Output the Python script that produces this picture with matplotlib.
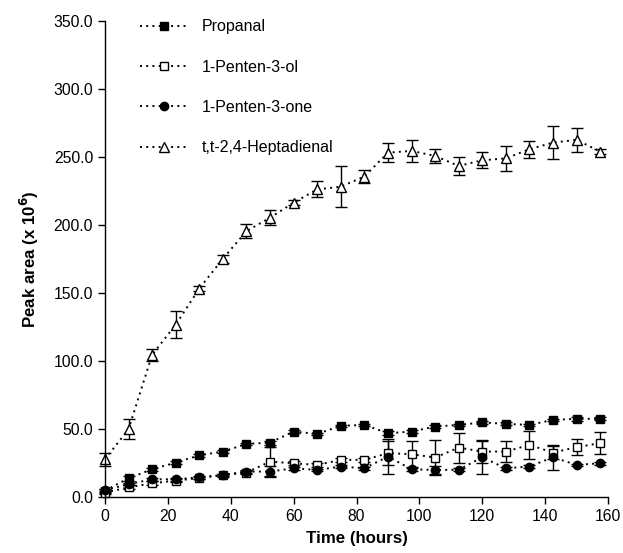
import matplotlib
matplotlib.use("Agg")
import matplotlib.pyplot as plt
import numpy as np

plt.rcParams['font.family'] = ['Liberation Sans', 'DejaVu Sans']

time_h = [0, 7.5, 15, 22.5, 30, 37.5, 45, 52.5, 60, 67.5, 75, 82.5,
          90, 97.5, 105, 112.5, 120, 127.5, 135, 142.5, 150, 157.5]

propanal = [4.7, 13.8, 20.4, 25.3, 30.7, 33.4, 39.0, 40.0, 48.1, 46.4, 52.3, 53.0,
            46.9, 48.1, 51.8, 53.0, 54.8, 53.8, 53.0, 56.7, 57.5, 57.5]
propanal_err = [1.5, 2.0, 1.0, 1.0, 1.0, 1.0, 1.0, 1.5, 1.0, 1.0, 1.0, 1.0,
                1.5, 1.0, 1.0, 1.0, 1.0, 1.0, 1.0, 1.0, 1.5, 1.0]

pentenol = [3.2, 7.1, 10.1, 12.0, 14.0, 16.0, 18.0, 26.0, 24.8, 23.6, 27.3, 27.3,
            32.2, 31.5, 29.0, 36.3, 33.4, 33.4, 38.3, 32.7, 36.6, 39.6]
pentenol_err = [1.0, 1.5, 1.5, 1.0, 1.0, 1.0, 1.0, 10.5, 1.5, 1.5, 1.5, 1.5,
                9.0, 9.8, 12.9, 11.0, 8.6, 8.0, 10.0, 5.0, 6.0, 8.3]

pentenone = [5.0, 9.5, 13.0, 13.0, 14.5, 16.2, 18.7, 18.7, 21.1, 19.9, 22.4, 21.1,
             29.7, 20.4, 19.9, 20.0, 29.2, 21.1, 22.4, 29.2, 23.6, 24.8]
pentenone_err = [1.0, 1.0, 1.0, 1.0, 1.0, 1.0, 1.0, 4.0, 1.0, 1.0, 1.0, 1.0,
                 13.0, 1.0, 3.0, 1.0, 12.0, 1.0, 1.0, 9.0, 1.0, 1.0]

heptadienal = [27.8, 49.9, 104.6, 126.7, 153.3, 175.2, 195.5, 205.4, 216.4, 226.2, 228.2, 235.6,
               253.2, 254.5, 250.8, 243.4, 247.6, 249.0, 255.7, 260.6, 262.6, 254.0]
heptadienal_err = [4.9, 7.4, 4.3, 9.8, 2.0, 2.8, 5.2, 5.7, 2.0, 5.9, 15.1, 4.8,
                   6.8, 7.9, 5.0, 6.4, 5.8, 9.2, 6.4, 12.2, 8.6, 2.0]

labels = ['Propanal', '1-Penten-3-ol', '1-Penten-3-one', 't,t-2,4-Heptadienal']

fig = plt.figure(figsize=(6.23, 5.53), dpi=100)
ax = fig.add_axes([105/623, 1-497/553, (608-105)/623, (497-21)/553])

dot = (0, (1, 2.2))
common = dict(color='black', linestyle=dot, linewidth=1.4, elinewidth=1.0,
              capsize=4, capthick=1.0, ecolor='black', clip_on=False)

series = [
    (propanal, propanal_err, dict(marker='s', markersize=6, markerfacecolor='black', markeredgecolor='black')),
    (pentenol, pentenol_err, dict(marker='s', markersize=6, markerfacecolor='white', markeredgecolor='black', markeredgewidth=1.0)),
    (pentenone, pentenone_err, dict(marker='o', markersize=6, markerfacecolor='black', markeredgecolor='black')),
    (heptadienal, heptadienal_err, dict(marker='^', markersize=7, markerfacecolor='white', markeredgecolor='black', markeredgewidth=1.0)),
]
handles = []
for (vals, errs, mk), lab in zip(series, labels):
    eb = ax.errorbar(time_h, vals, yerr=errs, label=lab, **common, **mk)
    for c in eb[1]:
        c.set_clip_on(False)
    for c in eb[2]:
        c.set_clip_on(False)
    handles.append(eb[0])

ax.set_xlim(0, 160)
ax.set_ylim(0, 350)
ax.set_xticks(np.arange(0, 161, 20))
ax.set_yticks(np.arange(0, 351, 50))
ax.set_yticklabels([f"{v:.1f}" for v in np.arange(0, 351, 50)])
ax.spines['top'].set_visible(False)
ax.spines['right'].set_visible(False)
ax.tick_params(direction='out', length=5, width=1, labelsize=11.3, colors='black')
for s in ['left', 'bottom']:
    ax.spines[s].set_linewidth(1.0)

ax.set_xlabel('Time (hours)', fontsize=12.2, fontweight='bold', labelpad=5)
ax.set_ylabel('Peak area (x 10$^\\mathbf{6}$)', fontsize=12.2, fontweight='bold', labelpad=9)

leg = ax.legend(handles=handles, labels=labels, loc='upper left',
                bbox_to_anchor=(27/503, 1.02), frameon=False, fontsize=11.5,
                handlelength=3.0, handletextpad=0.85, labelspacing=1.58,
                borderpad=0, numpoints=1)

fig.savefig('out.png', dpi=100)
